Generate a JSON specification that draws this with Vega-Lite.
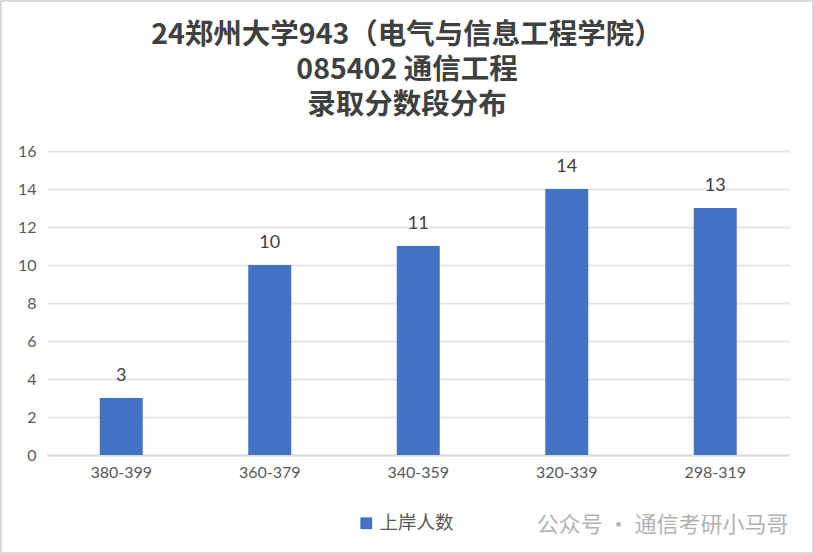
{"$schema":"https://vega.github.io/schema/vega-lite/v6.json","width":812,"height":552,"autosize":"none","padding":1,"background":"white","view":{"stroke":"#d9d9d9","strokeWidth":2},"data":{"values":[{"range":"380-399","series":"上岸人数","count":3},{"range":"360-379","series":"上岸人数","count":10},{"range":"340-359","series":"上岸人数","count":11},{"range":"320-339","series":"上岸人数","count":14},{"range":"298-319","series":"上岸人数","count":13}]},"layer":[{"mark":{"type":"bar","width":43},"encoding":{"x":{"field":"range","type":"nominal","sort":null,"title":"公众号 · 通信考研小马哥","scale":{"range":[46,788.5]},"axis":{"labelAngle":0,"labelFont":"Lato","labelFontSize":16,"labelColor":"#595959","ticks":false,"domainColor":"#dcdcdc","domainWidth":2,"labelPadding":9,"offset":-98,"titleFont":"Noto Sans CJK SC","titleFontSize":22,"titleFontWeight":"normal","titleColor":"#b2b2b2","titleAnchor":"end","titleAlign":"right","titleBaseline":"alphabetic","titleX":787,"titleY":76}},"y":{"field":"count","type":"quantitative","title":null,"scale":{"domain":[0,16],"range":[454,150]},"axis":{"values":[0,2,4,6,8,10,12,14,16],"labelFont":"Lato","labelFontSize":16,"labelColor":"#595959","ticks":false,"domain":false,"gridColor":"#e6e6e6","gridWidth":2,"labelPadding":11,"offset":-46}},"color":{"field":"series","type":"nominal","scale":{"range":["#4472c4"]},"legend":{"title":null,"orient":"none","legendX":356,"legendY":513,"symbolType":"square","symbolSize":140,"labelOffset":4,"labelFont":"Noto Sans CJK SC","labelFontSize":18.5,"labelColor":"#595959","symbolOpacity":1}}}},{"mark":{"type":"text","dy":-22,"font":"Lato","fontSize":18,"color":"#404040"},"encoding":{"x":{"field":"range","type":"nominal","sort":null},"y":{"field":"count","type":"quantitative"},"text":{"field":"count"}}}],"title":{"text":["24郑州大学943（电气与信息工程学院）","085402 通信工程","录取分数段分布"],"font":"Noto Sans CJK SC","fontSize":28.5,"fontWeight":"bold","color":"#404040","lineHeight":35,"anchor":"middle","offset":-118,"dx":0}}
